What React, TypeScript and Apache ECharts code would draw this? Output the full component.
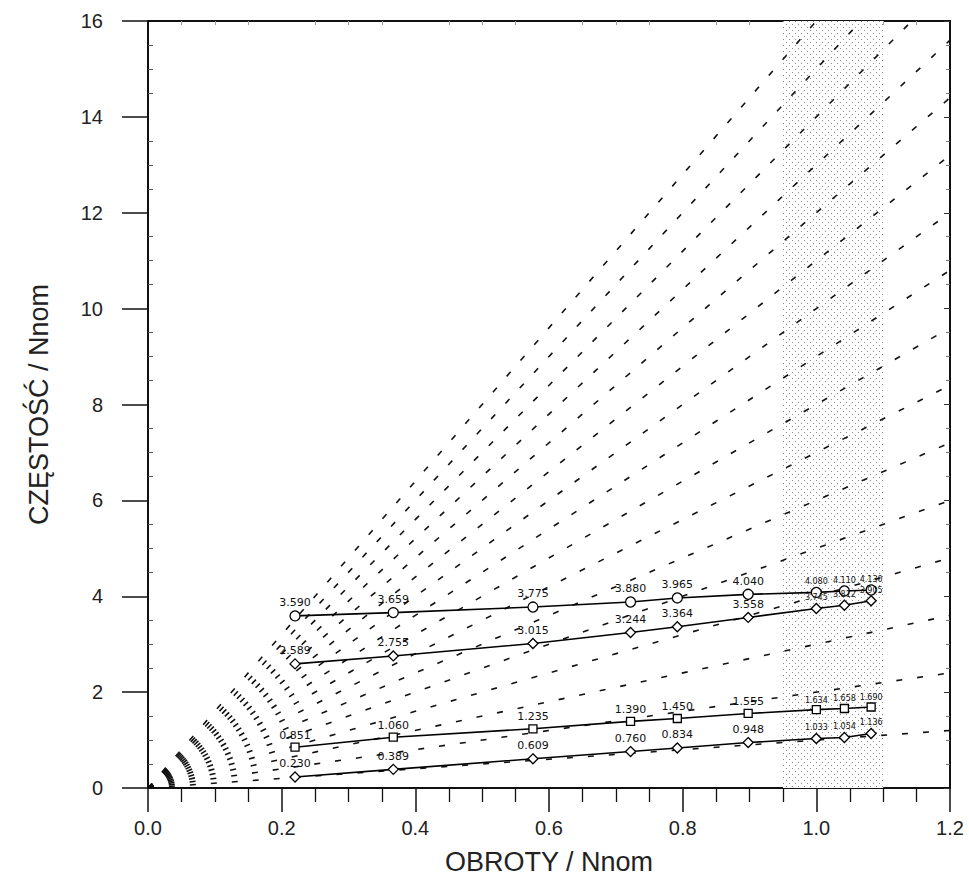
import React, { useEffect, useRef } from "react";
import * as echarts from "echarts";

// Engine-order (harmonic) lines y = k * x
const orders = [1, 2, 3, 4, 5, 6, 7, 8, 9, 10, 11, 12, 13, 14, 15, 16];
const xMax = 1.2;
const yMax = 16;

// Measured speeds (OBROTY / Nnom)
const speeds = [0.22, 0.367, 0.576, 0.722, 0.792, 0.898, 1.0, 1.042, 1.082];
// Natural frequencies of four modes (CZĘSTOŚĆ / Nnom)
const mode1 = [0.23, 0.389, 0.609, 0.76, 0.834, 0.948, 1.033, 1.054, 1.136];
const mode2 = [0.851, 1.06, 1.235, 1.39, 1.45, 1.555, 1.634, 1.658, 1.69];
const mode3 = [2.589, 2.755, 3.015, 3.244, 3.364, 3.558, 3.745, 3.812, 3.905];
const mode4 = [3.59, 3.659, 3.775, 3.88, 3.965, 4.04, 4.08, 4.11, 4.13];
const modeSymbols = ["diamond", "rect", "diamond", "circle"];

// Operating range band
const bandStart = 0.95;
const bandEnd = 1.1;

function makeStipple(): any {
  try {
    const c = document.createElement("canvas");
    c.width = 6;
    c.height = 6;
    const ctx = c.getContext("2d");
    if (!ctx) return "rgba(0,0,0,0.1)";
    ctx.fillStyle = "#ffffff";
    ctx.fillRect(0, 0, 6, 6);
    ctx.fillStyle = "#8a8a8a";
    ctx.fillRect(0, 0, 1, 1);
    ctx.fillRect(3, 3, 1, 1);
    return { image: c.toDataURL(), repeat: "repeat" };
  } catch (e) {
    return "rgba(0,0,0,0.1)";
  }
}

export default function App() {
  const ref = useRef<HTMLDivElement>(null);
  useEffect(() => {
    if (!ref.current) return;
    const chart = echarts.init(ref.current, null, { renderer: "svg" });
    const font = "Liberation Sans, Arial, sans-serif";

    const orderSeries = orders.map((k, i) => ({
      type: "line",
      name: "k" + k,
      xAxisIndex: 0,
      yAxisIndex: 0,
      data: [
        [0, 0],
        [xMax, k * xMax],
      ],
      symbol: "none",
      silent: true,
      clip: true,
      z: 2,
      lineStyle: { color: "#111", width: 1.6, type: [6, 15] },
      markArea:
        i === 0
          ? {
              silent: true,
              itemStyle: { color: makeStipple() },
              data: [[{ xAxis: bandStart }, { xAxis: bandEnd }]],
              z: 1,
            }
          : undefined,
    }));

    const modes = [mode1, mode2, mode3, mode4];
    const modeSeries = modes.map((m, i) => ({
      type: "line",
      name: "mode" + (i + 1),
      xAxisIndex: 0,
      yAxisIndex: 0,
      data: speeds.map((s, j) => ({
        value: [s, m[j]],
        label: j >= 6 ? { fontSize: 8, distance: 1 } : undefined,
      })),
      symbol: modeSymbols[i],
      symbolSize: i === 1 ? 8 : 10,
      z: 5,
      lineStyle: { color: "#000", width: 1.6 },
      itemStyle: { color: "#fff", borderColor: "#000", borderWidth: 1.3 },
      label: {
        show: true,
        position: "top",
        distance: 2,
        fontSize: 11,
        fontFamily: "DejaVu Sans, sans-serif",
        color: "#111",
        formatter: (p: any) => p.value[1].toFixed(3),
      },
    }));

    chart.setOption({
      animation: false,
      backgroundColor: "#fff",
      grid: { left: 148, right: 19, top: 21, bottom: 96, containLabel: false },
      xAxis: [
        {
          type: "value",
          position: "bottom",
          min: 0,
          max: xMax,
          interval: 0.2,
          name: "OBROTY / Nnom",
          nameLocation: "middle",
          nameGap: 60,
          nameTextStyle: { fontSize: 27, fontFamily: font, color: "#222" },
          axisLine: { show: true, onZero: false, lineStyle: { color: "#111", width: 2 } },
          axisTick: { show: true, inside: false, length: 24, lineStyle: { color: "#111", width: 1.5 } },
          minorTick: { show: true, splitNumber: 4, length: 14, lineStyle: { color: "#111", width: 1.3 } },
          axisLabel: {
            formatter: (v: number) => v.toFixed(1),
            fontSize: 20,
            fontFamily: font,
            color: "#222",
            margin: 30,
          },
          splitLine: { show: false },
          minorSplitLine: { show: false },
        },
        {
          type: "value",
          position: "top",
          min: 0,
          max: xMax,
          interval: 0.2,
          axisLine: { show: true, onZero: false, lineStyle: { color: "#111", width: 2 } },
          axisTick: { show: false, inside: true },
          minorTick: { show: true, splitNumber: 4, length: 4, lineStyle: { color: "#999", width: 1 } },
          axisLabel: { show: false },
          splitLine: { show: false },
        },
      ],
      yAxis: [
        {
          type: "value",
          position: "left",
          min: 0,
          max: yMax,
          interval: 2,
          name: "CZĘSTOŚĆ / Nnom",
          nameLocation: "middle",
          nameGap: 96,
          nameTextStyle: { fontSize: 27, fontFamily: font, color: "#222" },
          axisLine: { show: true, onZero: false, lineStyle: { color: "#111", width: 2 } },
          axisTick: { show: true, inside: false, length: 26, lineStyle: { color: "#111", width: 1.5 } },
          axisLabel: { fontSize: 20, fontFamily: font, color: "#222", margin: 45 },
          splitLine: { show: false },
        },
        {
          type: "value",
          position: "left",
          min: 0,
          max: yMax,
          interval: 2,
          axisLine: { show: false },
          axisTick: { show: false, inside: true },
          minorTick: { show: true, splitNumber: 4, length: 5, lineStyle: { color: "#555", width: 1 } },
          axisLabel: { show: false },
          splitLine: { show: false },
        },
        {
          type: "value",
          position: "right",
          min: 0,
          max: yMax,
          interval: 2,
          axisLine: { show: true, onZero: false, lineStyle: { color: "#111", width: 2 } },
          axisTick: { show: true, inside: true, length: 6, lineStyle: { color: "#333", width: 1 } },
          minorTick: { show: true, splitNumber: 4, length: 4, lineStyle: { color: "#777", width: 1 } },
          axisLabel: { show: false },
          splitLine: { show: false },
        },
      ],
      series: [...orderSeries, ...modeSeries],
    });
    return () => chart.dispose();
  }, []);
  return (
    <div
      ref={ref}
      style={{ position: "fixed", left: 0, top: 0, width: 969, height: 884, background: "#fff" }}
    />
  );
}
